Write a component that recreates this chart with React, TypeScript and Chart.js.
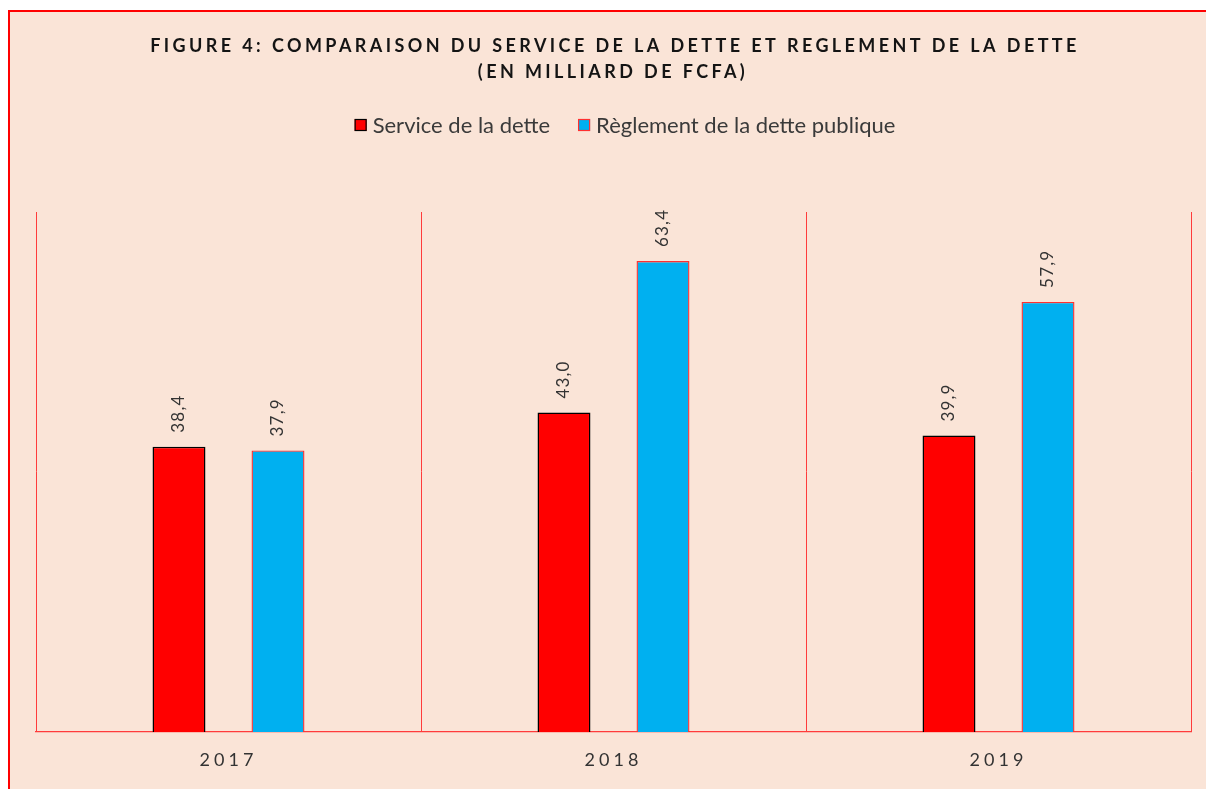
import React, { useEffect, useRef } from "react";
import { Chart, registerables } from "chart.js";

Chart.register(...registerables);

const categories = ["2017", "2018", "2019"];
const serviceDette = [38.4, 43.0, 39.9];
const reglementDette = [37.9, 63.4, 57.9];
const seriesNames = ["Service de la dette", "Règlement de la dette publique"];
const titleLines = [
  "FIGURE 4: COMPARAISON DU SERVICE DE LA DETTE ET REGLEMENT DE LA DETTE",
  "(EN MILLIARD DE FCFA)",
];

const BG = "#FAE4D7";
const RED = "#FF0000";
const BLUE = "#00B0F0";
const GRID_RED = "#FF3B3B";

const fmt = (v: number) => v.toFixed(1).replace(".", ",");

const decorPlugin = {
  id: "decor",
  beforeDraw(chart: any) {
    chart.ctx.letterSpacing = "0px";
  },
  afterDraw(chart: any) {
    const ctx = chart.ctx as any;
    const xs = chart.scales.x;
    const area = chart.chartArea;

    // Title
    ctx.save();
    ctx.fillStyle = "#141414";
    ctx.font = "bold 18px Lato";
    ctx.letterSpacing = "3.4px";
    ctx.textAlign = "center";
    ctx.textBaseline = "middle";
    ctx.fillText(titleLines[0], 615, 46);
    ctx.fillText(titleLines[1], 613, 72);
    ctx.restore();

    // Legend
    ctx.save();
    ctx.font = "22px Lato";
    ctx.letterSpacing = "0px";
    const w1 = ctx.measureText(seriesNames[0]).width;
    const w2 = ctx.measureText(seriesNames[1]).width;
    const box = 12;
    const gapBox = 6;
    const gapItem = 28;
    const total = box + gapBox + w1 + gapItem + box + gapBox + w2;
    let x = 625 - total / 2;
    const cy = 125;
    const items = [
      { fill: RED, stroke: "#000000", text: seriesNames[0], w: w1 },
      { fill: BLUE, stroke: "#FF3030", text: seriesNames[1], w: w2 },
    ];
    items.forEach((it) => {
      ctx.fillStyle = it.fill;
      ctx.fillRect(x, cy - box / 2, box, box);
      ctx.strokeStyle = it.stroke;
      ctx.lineWidth = 1.2;
      ctx.strokeRect(x + 0.5, cy - box / 2 + 0.5, box - 1, box - 1);
      ctx.fillStyle = "#3a3a3a";
      ctx.textAlign = "left";
      ctx.textBaseline = "middle";
      ctx.fillText(it.text, x + box + gapBox, cy + 1);
      x += box + gapBox + it.w + gapItem;
    });
    ctx.restore();

    // Data labels
    ctx.save();
    ctx.font = "17px Lato";
    ctx.letterSpacing = "1.2px";
    ctx.fillStyle = "#333333";
    chart.data.datasets.forEach((ds: any, di: number) => {
      const meta = chart.getDatasetMeta(di);
      meta.data.forEach((bar: any, i: number) => {
        ctx.save();
        ctx.translate(bar.x, bar.y - 14);
        ctx.rotate(-Math.PI / 2);
        ctx.textAlign = "left";
        ctx.textBaseline = "middle";
        ctx.fillText(fmt(ds.data[i]), 0, 0);
        ctx.restore();
      });
    });
    ctx.restore();

    // X tick labels
    ctx.save();
    ctx.font = "18px Lato";
    ctx.letterSpacing = "4px";
    ctx.fillStyle = "#333333";
    ctx.textAlign = "center";
    ctx.textBaseline = "middle";
    categories.forEach((c, i) => {
      ctx.fillText(c, xs.getPixelForTick(i), area.bottom + 28);
    });
    ctx.restore();
  },
};

export default function App() {
  const ref = useRef<HTMLCanvasElement>(null);
  useEffect(() => {
    if (!ref.current) return;
    const chart = new Chart(ref.current, {
      type: "bar",
      data: {
        labels: categories,
        datasets: [
          {
            label: seriesNames[0],
            data: serviceDette,
            backgroundColor: RED,
            borderColor: "#000000",
            borderWidth: 1.5,
            categoryPercentage: 0.5143,
            barPercentage: 0.535,
          },
          {
            label: seriesNames[1],
            data: reglementDette,
            backgroundColor: BLUE,
            borderColor: "#FF3030",
            borderWidth: 1.4,
            categoryPercentage: 0.5143,
            barPercentage: 0.535,
          },
        ],
      },
      options: {
        animation: false,
        responsive: false,
        maintainAspectRatio: false,
        devicePixelRatio: 1,
        layout: { padding: { left: 36, right: 15, top: 212, bottom: 57 } },
        plugins: {
          legend: { display: false },
          title: { display: false },
          tooltip: { enabled: false },
        },
        scales: {
          x: {
            offset: true,
            grid: {
              display: true,
              offset: true,
              color: GRID_RED,
              lineWidth: 1,
              drawTicks: false,
            },
            border: { display: true, color: GRID_RED, width: 1.2 },
            ticks: { display: false },
          },
          y: {
            display: false,
            min: 0,
            max: 70,
          },
        },
      },
      plugins: [decorPlugin],
    });
    return () => chart.destroy();
  }, []);

  return (
    <div style={{ position: "absolute", left: 0, top: 0, width: 1206, height: 789, overflow: "hidden", background: "#ffffff" }}>
      <div
        style={{
          position: "absolute",
          left: 8,
          top: 10,
          width: 1230,
          height: 820,
          border: "2px solid #FF0000",
          background: BG,
          boxSizing: "border-box",
        }}
      />
      <canvas
        ref={ref}
        width={1206}
        height={789}
        style={{ position: "absolute", left: 0, top: 0, width: 1206, height: 789 }}
      />
    </div>
  );
}
